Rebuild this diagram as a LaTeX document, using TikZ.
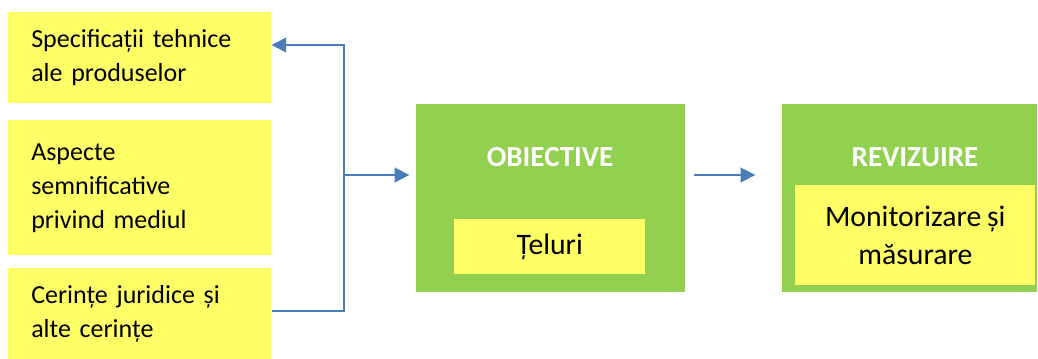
\documentclass[tikz,border=0pt]{standalone}
\usepackage{fontspec}
\setmainfont{Carlito}[WordSpace=0.85]
\usetikzlibrary{arrows.meta}
\definecolor{boxyellow}{HTML}{FFFF66}
\definecolor{boxgreen}{HTML}{92D050}
\definecolor{linkblue}{HTML}{4A7EBB}
\tikzset{
  srcbox/.style={fill=boxyellow, draw=none, anchor=north west, inner xsep=17.25pt,
    minimum width=197.25pt, minimum height=68.25pt, text width=162.75pt, align=left,
    font=\fontsize{19.5}{25.5}\selectfont},
  stagebox/.style={fill=boxgreen, draw=none, anchor=north west, inner sep=0pt},
  innerbox/.style={fill=boxyellow, draw=none, anchor=north west, inner sep=0pt},
  stagetitle/.style={text=white, font=\fontsize{21.8}{26}\bfseries\selectfont},
  innertext/.style={align=center, font=\fontsize{22.3}{28.5}\selectfont},
  link/.style={draw=linkblue, line width=1.3pt},
  arrowlink/.style={link, -{Triangle[length=11pt, width=11pt]}}
}
\begin{document}
\begin{tikzpicture}[x=0.75pt, y=-0.75pt]
  \useasboundingbox (0,0) rectangle (1038,358);

  % input boxes on the left
  \node[srcbox] (spec) at (8,12) {Specificații tehnice\\ale produselor};
  \node[srcbox, minimum height=101.25pt] (asp) at (8,120) {Aspecte\\semnificative\\privind mediul};
  \node[srcbox] (cer) at (8,268) {Cerințe juridice și\\alte cerințe};

  % objectives stage
  \node[stagebox, minimum width=201.75pt, minimum height=141pt] (obj) at (416,104) {};
  \node[stagetitle] (objtitle) at (550,157) {OBIECTIVE};
  \node[innerbox, minimum width=143.25pt, minimum height=41.25pt] (tel) at (454,219) {};
  \node[innertext] (teltext) at (tel.center) {Țeluri};

  % review stage
  \node[stagebox, minimum width=191.25pt, minimum height=141pt] (rev) at (782,104) {};
  \node[stagetitle] (revtitle) at (915,157) {REVIZUIRE};
  \node[innerbox, minimum width=180pt, minimum height=75pt] (mon) at (795,185) {};
  \node[innertext] (montext) at (mon.center) {Monitorizare și\\măsurare};

  % collecting bracket
  \coordinate (jt) at (344,44);
  \coordinate (jm) at (344,175);
  \coordinate (jb) at (344,312);
  \draw[link] (jt) -- (jb);
  \draw[arrowlink] ([xshift=0.6pt]jt |- 0,45) -- (spec.east |- 0,45);
  \draw[link] (cer.east |- 0,311) -- (jb |- 0,311);
  \draw[arrowlink, shorten >=5pt] (jm) -- (obj.west |- jm);
  \draw[arrowlink, shorten <=6pt, shorten >=20pt] (obj.east |- jm) -- (rev.west |- jm);
\end{tikzpicture}
\end{document}
